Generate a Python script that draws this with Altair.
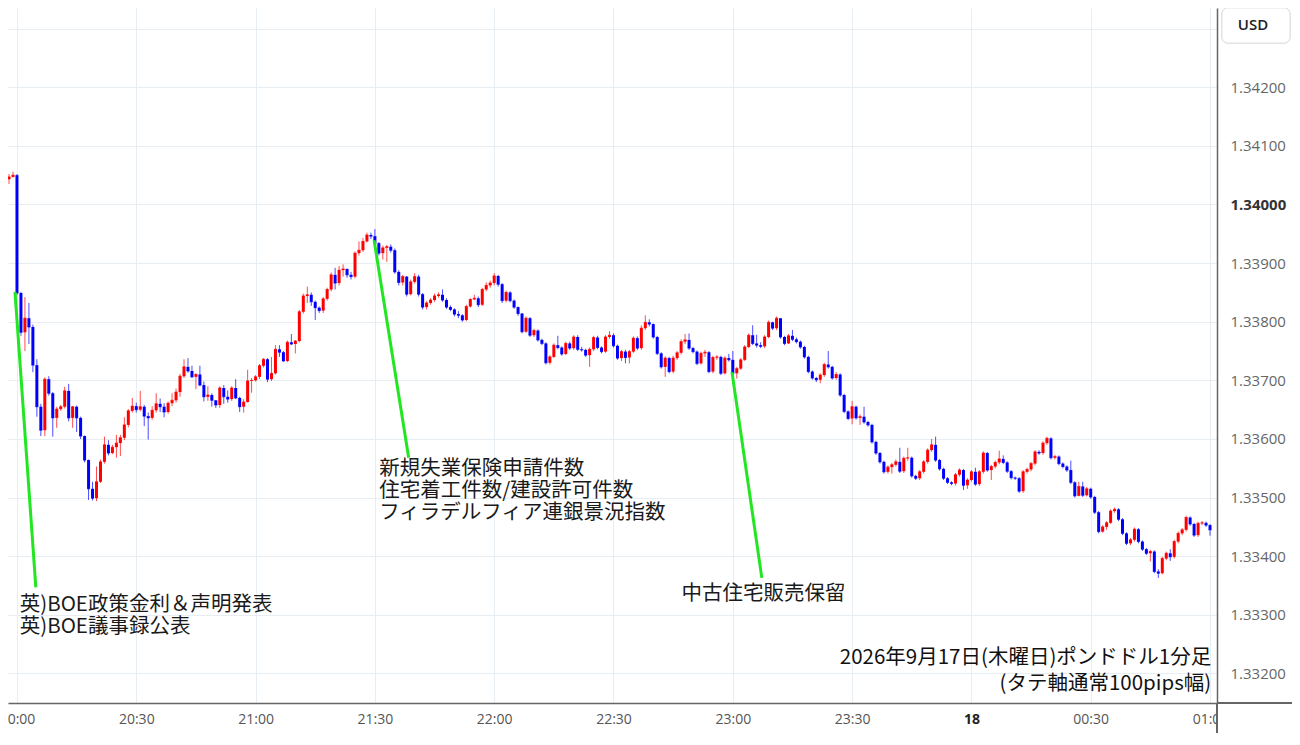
import altair as alt
import pandas as pd

# ---------------- data ----------------
start_minute = -2          # minutes after 20:00 of the first candle (19:58)
open_first = 1.34043       # open of the first candle

closes = [
    1.34047, 1.34050,
    1.33849, 1.33782, 1.33806, 1.33791, 1.33726, 1.33655, 1.33615, 1.33702, 1.33678, 1.33636,
    1.33651, 1.33655, 1.33682, 1.33636, 1.33655, 1.33636, 1.33605, 1.33564, 1.33515, 1.33499,
    1.33527, 1.33561, 1.33590, 1.33576, 1.33586, 1.33593, 1.33602, 1.33624, 1.33648, 1.33656,
    1.33650, 1.33655, 1.33639, 1.33636, 1.33649, 1.33660, 1.33655, 1.33646, 1.33661, 1.33666,
    1.33680, 1.33707, 1.33723, 1.33716, 1.33706, 1.33710, 1.33692, 1.33672, 1.33675, 1.33666,
    1.33658, 1.33687, 1.33672, 1.33668, 1.33687, 1.33670, 1.33655, 1.33663, 1.33699, 1.33700,
    1.33706, 1.33725, 1.33736, 1.33702, 1.33712, 1.33753, 1.33748, 1.33733, 1.33765, 1.33762,
    1.33767, 1.33817, 1.33844, 1.33846, 1.33834, 1.33824, 1.33819, 1.33839, 1.33855, 1.33880,
    1.33866, 1.33888, 1.33890, 1.33880, 1.33877, 1.33917, 1.33922, 1.33937, 1.33948, 1.33946,
    1.33934, 1.33917, 1.33926, 1.33928, 1.33922, 1.33885, 1.33867, 1.33877, 1.33847, 1.33868,
    1.33877, 1.33847, 1.33825, 1.33832, 1.33837, 1.33844, 1.33846, 1.33837, 1.33825, 1.33821,
    1.33813, 1.33811, 1.33803, 1.33826, 1.33838, 1.33840, 1.33829, 1.33855, 1.33862, 1.33866,
    1.33878, 1.33864, 1.33836, 1.33850, 1.33836, 1.33825, 1.33814, 1.33783, 1.33806, 1.33777,
    1.33785, 1.33769, 1.33763, 1.33730, 1.33740, 1.33760, 1.33756, 1.33745, 1.33763, 1.33755,
    1.33774, 1.33753, 1.33752, 1.33743, 1.33753, 1.33773, 1.33756, 1.33749, 1.33774, 1.33777,
    1.33759, 1.33738, 1.33749, 1.33739, 1.33749, 1.33772, 1.33755, 1.33789, 1.33799, 1.33796,
    1.33774, 1.33746, 1.33723, 1.33738, 1.33715, 1.33738, 1.33747, 1.33766, 1.33769, 1.33755,
    1.33749, 1.33729, 1.33746, 1.33748, 1.33715, 1.33739, 1.33740, 1.33712, 1.33738, 1.33735,
    1.33712, 1.33720, 1.33735, 1.33757, 1.33777, 1.33763, 1.33760, 1.33758, 1.33774, 1.33799,
    1.33789, 1.33806, 1.33774, 1.33763, 1.33776, 1.33770, 1.33766, 1.33757, 1.33740, 1.33715,
    1.33704, 1.33701, 1.33709, 1.33727, 1.33723, 1.33704, 1.33710, 1.33675, 1.33647, 1.33635,
    1.33655, 1.33636, 1.33638, 1.33629, 1.33624, 1.33595, 1.33576, 1.33561, 1.33544, 1.33552,
    1.33556, 1.33561, 1.33545, 1.33567, 1.33568, 1.33537, 1.33533, 1.33544, 1.33561, 1.33581,
    1.33590, 1.33564, 1.33549, 1.33533, 1.33526, 1.33524, 1.33539, 1.33547, 1.33521, 1.33530,
    1.33544, 1.33523, 1.33544, 1.33576, 1.33547, 1.33553, 1.33560, 1.33566, 1.33560, 1.33545,
    1.33534, 1.33533, 1.33511, 1.33544, 1.33548, 1.33558, 1.33578, 1.33576, 1.33593, 1.33601,
    1.33568, 1.33570, 1.33558, 1.33553, 1.33547, 1.33526, 1.33503, 1.33519, 1.33504, 1.33515,
    1.33501, 1.33475, 1.33442, 1.33450, 1.33457, 1.33477, 1.33480, 1.33463, 1.33439, 1.33422,
    1.33428, 1.33446, 1.33425, 1.33412, 1.33405, 1.33408, 1.33374, 1.33371, 1.33396, 1.33405,
    1.33399, 1.33425, 1.33439, 1.33445, 1.33466, 1.33455, 1.33436, 1.33456, 1.33457, 1.33453,
    1.33445,
]

highs = [
    1.34052, 1.34056,
    1.34052, 1.33851, 1.33842, 1.33832, 1.33795, 1.33736, 1.33660, 1.33705, 1.33707, 1.33680,
    1.33655, 1.33658, 1.33689, 1.33694, 1.33656, 1.33657, 1.33638, 1.33606, 1.33565, 1.33527,
    1.33553, 1.33565, 1.33604, 1.33598, 1.33590, 1.33607, 1.33607, 1.33637, 1.33651, 1.33670,
    1.33662, 1.33682, 1.33658, 1.33645, 1.33656, 1.33678, 1.33669, 1.33661, 1.33664, 1.33678,
    1.33686, 1.33711, 1.33736, 1.33738, 1.33725, 1.33712, 1.33725, 1.33698, 1.33690, 1.33678,
    1.33666, 1.33690, 1.33692, 1.33683, 1.33690, 1.33702, 1.33672, 1.33668, 1.33718, 1.33704,
    1.33709, 1.33728, 1.33738, 1.33738, 1.33740, 1.33760, 1.33760, 1.33750, 1.33768, 1.33779,
    1.33769, 1.33820, 1.33848, 1.33860, 1.33850, 1.33836, 1.33826, 1.33842, 1.33858, 1.33884,
    1.33892, 1.33895, 1.33898, 1.33891, 1.33885, 1.33920, 1.33937, 1.33943, 1.33952, 1.33952,
    1.33958, 1.33936, 1.33930, 1.33931, 1.33932, 1.33925, 1.33888, 1.33880, 1.33878, 1.33872,
    1.33883, 1.33880, 1.33849, 1.33835, 1.33840, 1.33848, 1.33850, 1.33855, 1.33840, 1.33828,
    1.33823, 1.33818, 1.33813, 1.33829, 1.33840, 1.33846, 1.33843, 1.33858, 1.33867, 1.33870,
    1.33883, 1.33880, 1.33866, 1.33853, 1.33852, 1.33838, 1.33826, 1.33815, 1.33809, 1.33808,
    1.33788, 1.33787, 1.33771, 1.33765, 1.33743, 1.33763, 1.33776, 1.33758, 1.33766, 1.33766,
    1.33777, 1.33777, 1.33757, 1.33754, 1.33756, 1.33776, 1.33776, 1.33758, 1.33777, 1.33784,
    1.33780, 1.33761, 1.33752, 1.33752, 1.33752, 1.33775, 1.33775, 1.33794, 1.33811, 1.33804,
    1.33797, 1.33776, 1.33748, 1.33741, 1.33740, 1.33742, 1.33750, 1.33770, 1.33779, 1.33780,
    1.33757, 1.33751, 1.33749, 1.33752, 1.33750, 1.33742, 1.33743, 1.33742, 1.33741, 1.33745,
    1.33750, 1.33723, 1.33738, 1.33760, 1.33780, 1.33794, 1.33778, 1.33765, 1.33777, 1.33802,
    1.33800, 1.33809, 1.33806, 1.33776, 1.33779, 1.33786, 1.33773, 1.33768, 1.33759, 1.33742,
    1.33717, 1.33706, 1.33712, 1.33730, 1.33750, 1.33725, 1.33714, 1.33712, 1.33677, 1.33649,
    1.33665, 1.33657, 1.33642, 1.33655, 1.33631, 1.33626, 1.33597, 1.33578, 1.33563, 1.33555,
    1.33559, 1.33565, 1.33585, 1.33570, 1.33585, 1.33570, 1.33539, 1.33547, 1.33564, 1.33584,
    1.33600, 1.33604, 1.33566, 1.33551, 1.33535, 1.33528, 1.33542, 1.33550, 1.33549, 1.33533,
    1.33547, 1.33551, 1.33547, 1.33579, 1.33578, 1.33556, 1.33563, 1.33580, 1.33572, 1.33562,
    1.33547, 1.33536, 1.33535, 1.33547, 1.33551, 1.33561, 1.33581, 1.33581, 1.33596, 1.33604,
    1.33603, 1.33573, 1.33572, 1.33560, 1.33555, 1.33563, 1.33528, 1.33527, 1.33527, 1.33518,
    1.33517, 1.33503, 1.33477, 1.33453, 1.33460, 1.33480, 1.33483, 1.33482, 1.33465, 1.33441,
    1.33431, 1.33449, 1.33448, 1.33427, 1.33414, 1.33411, 1.33410, 1.33378, 1.33399, 1.33408,
    1.33412, 1.33428, 1.33442, 1.33448, 1.33469, 1.33468, 1.33457, 1.33459, 1.33460, 1.33459,
    1.33455,
]

lows = [
    1.34035, 1.34046,
    1.33845, 1.33776, 1.33750, 1.33762, 1.33714, 1.33638, 1.33605, 1.33605, 1.33674, 1.33604,
    1.33619, 1.33648, 1.33652, 1.33630, 1.33619, 1.33612, 1.33600, 1.33560, 1.33496, 1.33495,
    1.33494, 1.33525, 1.33558, 1.33572, 1.33574, 1.33568, 1.33571, 1.33598, 1.33620, 1.33645,
    1.33645, 1.33647, 1.33622, 1.33599, 1.33633, 1.33645, 1.33646, 1.33637, 1.33643, 1.33656,
    1.33662, 1.33672, 1.33704, 1.33713, 1.33704, 1.33685, 1.33690, 1.33664, 1.33665, 1.33655,
    1.33653, 1.33653, 1.33660, 1.33662, 1.33665, 1.33668, 1.33646, 1.33645, 1.33662, 1.33679,
    1.33698, 1.33702, 1.33722, 1.33697, 1.33699, 1.33710, 1.33740, 1.33732, 1.33731, 1.33760,
    1.33746, 1.33765, 1.33814, 1.33832, 1.33827, 1.33803, 1.33815, 1.33815, 1.33836, 1.33852,
    1.33855, 1.33862, 1.33877, 1.33875, 1.33872, 1.33874, 1.33913, 1.33919, 1.33935, 1.33941,
    1.33928, 1.33913, 1.33906, 1.33902, 1.33918, 1.33882, 1.33862, 1.33862, 1.33843, 1.33845,
    1.33865, 1.33843, 1.33821, 1.33821, 1.33829, 1.33834, 1.33841, 1.33834, 1.33822, 1.33818,
    1.33809, 1.33806, 1.33800, 1.33801, 1.33824, 1.33837, 1.33825, 1.33827, 1.33852, 1.33858,
    1.33862, 1.33860, 1.33832, 1.33833, 1.33833, 1.33822, 1.33810, 1.33780, 1.33781, 1.33774,
    1.33774, 1.33766, 1.33760, 1.33727, 1.33727, 1.33738, 1.33753, 1.33742, 1.33743, 1.33752,
    1.33752, 1.33750, 1.33749, 1.33740, 1.33723, 1.33750, 1.33753, 1.33746, 1.33747, 1.33771,
    1.33756, 1.33735, 1.33733, 1.33729, 1.33729, 1.33747, 1.33752, 1.33752, 1.33786, 1.33792,
    1.33771, 1.33743, 1.33720, 1.33706, 1.33712, 1.33712, 1.33735, 1.33744, 1.33762, 1.33752,
    1.33746, 1.33726, 1.33727, 1.33740, 1.33712, 1.33712, 1.33735, 1.33709, 1.33710, 1.33732,
    1.33709, 1.33703, 1.33718, 1.33733, 1.33755, 1.33760, 1.33756, 1.33755, 1.33755, 1.33772,
    1.33786, 1.33786, 1.33771, 1.33760, 1.33762, 1.33767, 1.33763, 1.33754, 1.33737, 1.33712,
    1.33701, 1.33697, 1.33695, 1.33706, 1.33720, 1.33701, 1.33701, 1.33672, 1.33644, 1.33632,
    1.33625, 1.33633, 1.33624, 1.33626, 1.33621, 1.33592, 1.33573, 1.33558, 1.33541, 1.33541,
    1.33541, 1.33553, 1.33542, 1.33542, 1.33563, 1.33534, 1.33530, 1.33530, 1.33541, 1.33558,
    1.33578, 1.33561, 1.33546, 1.33530, 1.33523, 1.33521, 1.33521, 1.33536, 1.33513, 1.33515,
    1.33527, 1.33520, 1.33520, 1.33541, 1.33544, 1.33530, 1.33550, 1.33557, 1.33557, 1.33542,
    1.33531, 1.33530, 1.33508, 1.33508, 1.33541, 1.33545, 1.33555, 1.33573, 1.33573, 1.33590,
    1.33565, 1.33565, 1.33555, 1.33550, 1.33544, 1.33523, 1.33500, 1.33502, 1.33501, 1.33502,
    1.33498, 1.33472, 1.33439, 1.33440, 1.33445, 1.33455, 1.33474, 1.33460, 1.33436, 1.33419,
    1.33419, 1.33425, 1.33422, 1.33409, 1.33402, 1.33391, 1.33371, 1.33363, 1.33369, 1.33393,
    1.33392, 1.33396, 1.33422, 1.33436, 1.33442, 1.33452, 1.33433, 1.33433, 1.33453, 1.33450,
    1.33435,
]

# axis ticks / labels
x_tick_minutes = [0, 30, 60, 90, 120, 150, 180, 210, 240, 270, 300]
x_tick_labels = ["20:00", "20:30", "21:00", "21:30", "22:00", "22:30",
                 "23:00", "23:30", "18", "00:30", "01:00"]
y_ticks = [1.332, 1.333, 1.334, 1.335, 1.336, 1.337, 1.338, 1.339,
           1.340, 1.341, 1.342, 1.343]
y_labelled_max = 1.342      # the top grid line carries no label (the USD badge sits there)
currency = "USD"

# event annotations: leader line (start -> end) and text blocks
event_line_t0 = [-0.5, 89.8, 179.8]
event_line_p0 = [1.33851, 1.33939, 1.33714]
event_line_t1 = [4.74, 98.5, 187.3]
event_line_p1 = [1.33347, 1.33568, 1.33363]

event_text = ["英)BOE政策金利＆声明発表\n英)BOE議事録公表",
              "新規失業保険申請件数\n住宅着工件数/建設許可件数\nフィラデルフィア連銀景況指数",
              "中古住宅販売保留"]
event_text_t = [0.7, 91.1, 167.1]
event_text_p = [1.33333, 1.33566, 1.33352]   # top of first line

title_text = ["2026年9月17日(木曜日)ポンドドル1分足\n(タテ軸通常100pips幅)"]
title_t = [300.3]
title_p = [1.33243]                          # top of first line

# ---------------- frames ----------------
minutes = list(range(start_minute, start_minute + len(closes)))
opens = [open_first] + closes[:-1]
candles = pd.DataFrame({"t": minutes, "open": opens, "close": closes,
                        "high": highs, "low": lows})
candles["dir"] = ["up" if c >= o else "down" for o, c in zip(opens, closes)]

lines_df = pd.DataFrame({"t": event_line_t0, "p": event_line_p0,
                         "t2": event_line_t1, "p2": event_line_p1})
text_df = pd.DataFrame({"t": event_text_t, "p": event_text_p, "label": event_text})
title_df = pd.DataFrame({"t": title_t, "p": title_p, "label": title_text})

# ---------------- scales & axes ----------------
W, H = 1209, 695
RP, BP = 75, 30            # room for the price panel and the time labels
xscale = alt.Scale(domain=[-1, 300.5], nice=False, zero=False)
yscale = alt.Scale(domain=[1.331496, 1.343352], nice=False, zero=False)

labels_js = "[" + ",".join("'" + s + "'" for s in x_tick_labels) + "]"
x_axis = alt.Axis(
    values=x_tick_minutes,
    labelExpr=f"{labels_js}[round((datum.value - {x_tick_minutes[0]}) / 30)]",
    grid=True, ticks=False, domain=True, title=None,
    labelPadding=9, labelFontSize=14, labelFont="Open Sans",
    labelColor={"condition": {"test": "datum.value == 240", "value": "#222222"}, "value": "#555555"},
    labelFontWeight={"condition": {"test": "datum.value == 240", "value": "bold"}, "value": "normal"},
)
y_axis = alt.Axis(
    orient="right", values=y_ticks,
    labelExpr=f"datum.value > {y_labelled_max} + 0.0005 ? '' : format(datum.value, '.5f')",
    grid=True, ticks=False, domain=True, title=None,
    labelPadding=13, labelFontSize=15, labelFont="Open Sans",
    labelColor={"condition": {"test": "abs(datum.value - 1.34) < 0.0000001", "value": "#333333"}, "value": "#666666"},
    labelFontWeight={"condition": {"test": "abs(datum.value - 1.34) < 0.0000001", "value": "bold"}, "value": "normal"},
)


def X(field):
    return alt.X(field, scale=xscale, axis=x_axis)


def Y(field):
    return alt.Y(field, scale=yscale, axis=y_axis)


color = alt.Color("dir:N", scale=alt.Scale(domain=["up", "down"], range=["#ff0000", "#0000ff"]), legend=None)

wicks = alt.Chart(candles).mark_rule(strokeWidth=1, opacity=0.7, clip=True).encode(
    x=X("t:Q"), y=Y("low:Q"), y2="high:Q", color=color)
bodies = alt.Chart(candles).mark_bar(size=3, clip=True).encode(
    x=X("t:Q"), y=Y("open:Q"), y2="close:Q", color=color)
closes_tick = alt.Chart(candles).mark_tick(orient="horizontal", size=3, thickness=1, clip=True).encode(
    x=X("t:Q"), y=Y("close:Q"), color=color)

leaders = alt.Chart(lines_df).mark_rule(color="#22e622", strokeWidth=3).encode(
    x=X("t:Q"), x2="t2:Q", y=Y("p:Q"), y2="p2:Q")
ev_text = alt.Chart(text_df).mark_text(
    align="left", baseline="top", font="Noto Sans CJK JP", fontSize=20.5,
    lineBreak="\n", lineHeight=22, color="#1a1a1a").encode(
    x=X("t:Q"), y=Y("p:Q"), text="label:N")
ttl_text = alt.Chart(title_df).mark_text(
    align="right", baseline="top", font="Noto Sans CJK JP", fontSize=20.5,
    lineBreak="\n", lineHeight=26, color="#111111").encode(
    x=X("t:Q"), y=Y("p:Q"), text="label:N")

# decorations outside the plot (right price panel)
cover = alt.Chart(candles).mark_rect(color="white").encode(
    x=alt.value(W + 1), x2=alt.value(W + RP), y=alt.value(H + 1), y2=alt.value(H + BP))
xline_ext = alt.Chart(candles).mark_rule(color="#666666", strokeWidth=1.5).encode(
    x=alt.value(W), x2=alt.value(W + RP), y=alt.value(H))
yline_ext = alt.Chart(candles).mark_rule(color="#666666", strokeWidth=1.5).encode(
    x=alt.value(W), y=alt.value(H), y2=alt.value(H + BP))
usd_box = alt.Chart(candles).mark_rect(fill="white", stroke="#e3e3e3", strokeWidth=1, cornerRadius=6).encode(
    x=alt.value(W + 5), x2=alt.value(W + 73), y=alt.value(0), y2=alt.value(35))
usd_text = alt.Chart(pd.DataFrame({"label": [currency]})).mark_text(
    font="Open Sans", fontSize=15, fontWeight=600, color="#222222", align="center", baseline="middle").encode(
    x=alt.value(W + 36), y=alt.value(17), text="label:N")

chart = alt.layer(
    wicks, bodies, closes_tick, leaders, ev_text, ttl_text,
    cover, xline_ext, yline_ext, usd_box, usd_text,
).properties(
    width=W, height=H,
    autosize=alt.AutoSizeParams(type="none"),
    padding={"left": 0, "top": 0, "right": RP, "bottom": BP},
    background="white",
).configure_view(
    stroke=None
).configure_axis(
    gridColor="#e6edf3", gridWidth=1, domainColor="#666666", domainWidth=1.5,
)

chart.save("out.html", embed_options={"renderer": "svg", "actions": False})
